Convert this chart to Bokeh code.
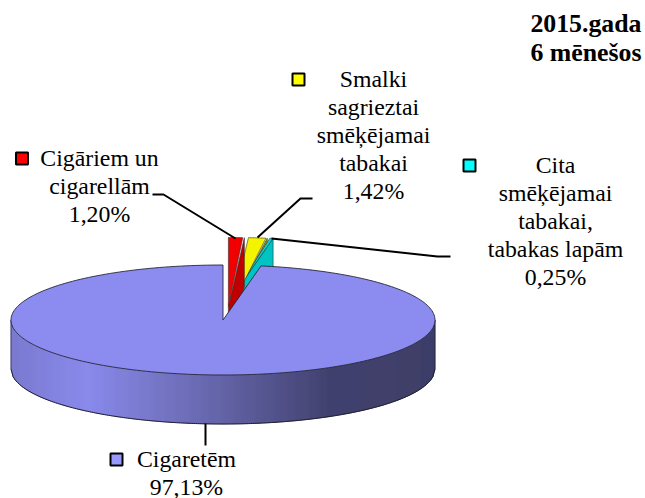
import math
from bokeh.plotting import figure
from bokeh.models import Range1d
from bokeh.core.properties import value
from bokeh.embed import file_html
from bokeh.resources import INLINE

# ---- data
names = ["Cigarillos", "Fine", "Other", "Cigarettes"]
shares = [1.20, 1.42, 0.25, 97.13]
face_colors = ["#F00000", "#F4F400", "#00D8D8", "#8C8CF0"]
wall_colors = ["#C00000", "#989800", "#00C4C4"]
key_colors = ["#FF0000", "#FFFF00", "#00FFFF", "#9999FF"]
title_lines = ["2015.gada", "6 mēnešos"]
label_lines = [
    ["Cigāriem un", "cigarellām", "1,20%"],
    ["Smalki", "sagrieztai", "smēķējamai", "tabakai", "1,42%"],
    ["Cita", "smēķējamai", "tabakai,", "tabakas lapām", "0,25%"],
    ["Cigaretēm", "97,13%"],
]

# ---- layout (reference pixel space)
CX, CY, RX, RY, DEPTH = 222.5, 319.5, 212.0, 55.0, 49.0
LIFT, EXPLODE, NUDGE = 27.5, 50.0, 3.5
FACE_EXT = [14, 12, 0]
FACE_FRAC = [0.9, 0.93, 1.0]
FONT = "Liberation Serif"
FS = "23.8px"
FS_TITLE = "25.8px"
label_x = [99, 373, 555, 186]
label_y = [157.5, 78.5, 164.5, 458]
LINE_H = 28
key_x = [21.5, 298, 469, 116]
key_y = [158, 79, 165, 459]
leaders = [
    ([152, 163, 235], [194, 194, 238]),
    ([312, 300, 257], [198, 198, 237]),
    ([271, 437, 450], [238, 256, 256]),
    ([205, 205], [423, 445]),
]

p = figure(width=645, height=498, output_backend="svg", toolbar_location=None,
           x_range=Range1d(0, 645), y_range=Range1d(498, 0), min_border=0)
p.axis.visible = False
p.grid.visible = False
p.outline_line_color = None
p.background_fill_color = "white"


def pt(cx, cy, deg):
    a = math.radians(deg)
    return cx + RX * math.sin(a), cy - RY * math.cos(a)


# ---- small exploded slices
angles = []
acc = 0.0
for s in shares:
    angles.append((acc, acc + s * 3.6))
    acc += s * 3.6


def slice_geom(i):
    a0, a1 = angles[i]
    mid = math.radians((a0 + a1) / 2)
    ax = CX + NUDGE + EXPLODE * math.sin(mid)
    ay = CY - LIFT
    return a0, a1, ax, ay, ay + FACE_EXT[i]


def draw_wall(i):
    a0, a1, ax, ay, fy = slice_geom(i)
    ex, ey = pt(ax, ay, a1)
    p.patch([ax, ex, ex, ax], [fy, ey, ey + DEPTH, ay + DEPTH],
            fill_color=wall_colors[i], line_color="#303030", line_width=0.6)


def draw_face(i):
    a0, a1, ax, ay, fy = slice_geom(i)
    n = 6
    a_end = a0 + (a1 - a0) * FACE_FRAC[i]
    rim = [pt(ax, ay, a0 + (a_end - a0) * k / n) for k in range(n + 1)]
    p.patch([ax] + [r[0] for r in rim], [fy] + [r[1] for r in rim],
            fill_color=face_colors[i], line_color="#303030", line_width=0.6)


draw_wall(1)
draw_wall(2)
draw_face(2)
draw_face(1)
draw_wall(0)
draw_face(0)

# ---- wall of the large slice, as shaded strips
stops = [(0.0, (122, 122, 208)), (0.18, (138, 138, 236)), (0.45, (106, 106, 178)),
         (0.75, (66, 66, 112)), (1.0, (62, 62, 104))]


def shade(t):
    for (t0, c0), (t1, c1) in zip(stops, stops[1:]):
        if t <= t1:
            f = (t - t0) / (t1 - t0)
            return "#%02x%02x%02x" % tuple(round(u + (v - u) * f) for u, v in zip(c0, c1))
    return "#3e3e68"


N = 212
xs, ys, cols = [], [], []
for k in range(N):
    x0 = CX - RX + 2 * RX * k / N
    x1 = CX - RX + 2 * RX * (k + 1) / N
    y0 = CY + RY * math.sqrt(max(0, 1 - ((x0 - CX) / RX) ** 2))
    y1 = CY + RY * math.sqrt(max(0, 1 - ((x1 - CX) / RX) ** 2))
    xs.append([x0, x1, x1, x0])
    ys.append([y0, y1, y1 + DEPTH, y0 + DEPTH])
    cols.append(shade((k + 0.5) / N))
p.patches(xs, ys, fill_color=cols, line_color=cols, line_width=0.6)

# outline of the wall
low = [CX - RX + 2 * RX * k / 200 for k in range(201)]
p.line(low, [CY + DEPTH + RY * math.sqrt(max(0, 1 - ((x - CX) / RX) ** 2)) for x in low],
       line_color="#1c1c2c", line_width=1)
p.line([CX - RX, CX - RX], [CY, CY + DEPTH], line_color="#303050", line_width=0.8)
p.line([CX + RX, CX + RX], [CY, CY + DEPTH], line_color="#202030", line_width=0.8)

# ---- top face of the large slice
a0, a1 = angles[3]
steps = 240
rim = [pt(CX, CY, a0 + (a1 - a0) * k / steps) for k in range(steps + 1)]
p.patch([CX] + [r[0] for r in rim], [CY] + [r[1] for r in rim],
        fill_color=face_colors[3], line_color="#26263a", line_width=0.9)

# ---- leaders
for lx, ly in leaders:
    p.line(lx, ly, line_color="black", line_width=2)

# ---- legend keys
p.scatter(key_x, key_y, marker="square", size=12, fill_color=key_colors,
          line_color="black", line_width=2)

# ---- labels
for lines, x, y in zip(label_lines, label_x, label_y):
    p.text([x] * len(lines), [y + LINE_H * j for j in range(len(lines))], text=lines,
           text_font=value(FONT), text_font_size=FS, text_align="center",
           text_baseline="middle", text_color="black")

p.text([641, 641], [23, 52], text=title_lines, text_font=value(FONT), text_font_size=FS_TITLE,
       text_font_style="bold", text_align="right", text_baseline="middle", text_color="black")

open("out.html", "w").write(file_html(p, INLINE))
